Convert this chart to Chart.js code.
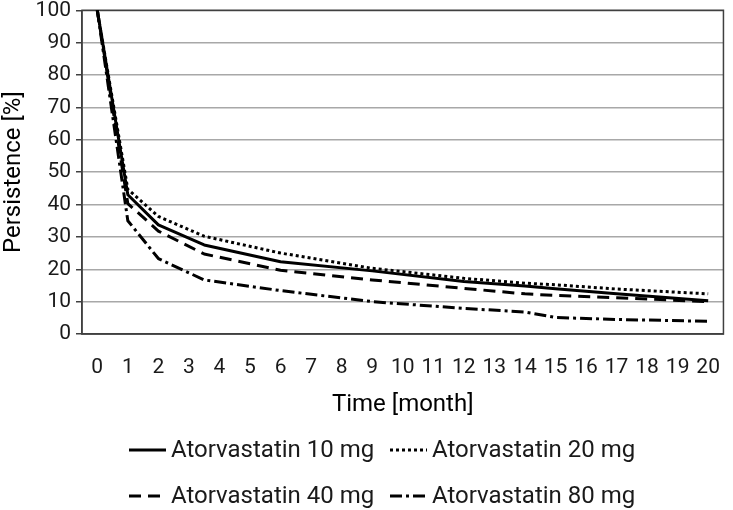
<!DOCTYPE html>
<html><head><meta charset="utf-8">
<script src="https://cdn.jsdelivr.net/npm/chart.js@4/dist/chart.umd.min.js"></script>
<style>html,body{margin:0;padding:0;background:#fff;}#wrap{width:733px;height:510px;}</style>
</head><body><div id="wrap"><canvas id="c" width="733" height="510"></canvas></div>
<script>
// ---- data ----
const months = [0, 1, 2, 3.5, 6, 9, 12, 14, 15, 17, 20];
const xTickValues = [0,1,2,3,4,5,6,7,8,9,10,11,12,13,14,15,16,17,18,19,20];
const seriesNames = ['Atorvastatin 10 mg','Atorvastatin 20 mg','Atorvastatin 40 mg','Atorvastatin 80 mg'];
const atorva10 = [100, 43.0, 33.7, 27.5, 22.3, 19.5, 16.2, 14.8, 14.0, 12.4, 10.3];
const atorva20 = [100, 44.7, 36.3, 30.2, 25.0, 20.3, 17.2, 15.7, 15.2, 13.9, 12.4];
const atorva40 = [100, 40.3, 31.8, 24.7, 19.7, 16.7, 14.1, 12.4, 11.9, 11.2, 10.0];
const atorva80 = [100, 35.0, 23.3, 16.7, 13.4, 10.0, 7.9, 6.8, 5.1, 4.5, 3.9];
const yAxisTitle = 'Persistence [%]';
const xAxisTitle = 'Time [month]';

const FONT = "Roboto, 'Open Sans', sans-serif";
Chart.defaults.font.family = FONT;
Chart.defaults.color = '#1a1a1a';

const styles = [
  {borderDash: []},
  {borderDash: [3, 3]},
  {borderDash: [12, 7]},
  {borderDash: [12, 4, 3, 4]}
];
const allValues = [atorva10, atorva20, atorva40, atorva80];
const datasets = allValues.map((vals, i) => ({
  label: seriesNames[i],
  data: months.map((m, j) => ({x: m, y: vals[j]})),
  borderColor: '#000',
  backgroundColor: '#000',
  borderWidth: 3,
  borderDash: styles[i].borderDash,
  borderCapStyle: 'butt',
  borderJoinStyle: 'round',
  pointRadius: 0,
  tension: 0,
  fill: false
}));

const boxPlugin = {
  id: 'box',
  beforeDatasetsDraw(chart) {
    const {ctx, chartArea: a} = chart;
    ctx.save();
    ctx.strokeStyle = '#404040';
    ctx.lineWidth = 1.5;
    ctx.strokeRect(a.left, a.top, a.right - a.left, a.bottom - a.top);
    ctx.restore();
  }
};

const legendPlugin = {
  id: 'twoRowLegend',
  afterDraw(chart) {
    const ctx = chart.ctx;
    const rows = [450, 496];
    const cols = [129, 390];
    const sampleW = 37, gap = 5;
    ctx.save();
    ctx.font = '24px ' + FONT;
    ctx.textBaseline = 'middle';
    ctx.fillStyle = '#1a1a1a';
    chart.data.datasets.forEach((ds, i) => {
      const y = rows[Math.floor(i / 2)];
      const x = cols[i % 2];
      ctx.strokeStyle = ds.borderColor;
      ctx.lineWidth = ds.borderWidth;
      ctx.lineCap = 'butt';
      ctx.setLineDash(ds.borderDash || []);
      ctx.beginPath();
      ctx.moveTo(x, y);
      ctx.lineTo(x + sampleW, y);
      ctx.stroke();
      ctx.setLineDash([]);
      ctx.fillText(ds.label, x + sampleW + gap, y + 1);
    });
    ctx.restore();
  }
};

new Chart(document.getElementById('c'), {
  type: 'line',
  data: {datasets},
  plugins: [boxPlugin, legendPlugin],
  options: {
    responsive: false,
    devicePixelRatio: 1,
    animation: false,
    layout: {padding: {top: 5, right: 1, bottom: 85, left: 0}},
    plugins: {legend: {display: false}, tooltip: {enabled: false}},
    scales: {
      x: {
        type: 'linear', min: -0.5, max: 20.5,
        afterBuildTicks(s) { s.ticks = xTickValues.map(v => ({value: v})); },
        ticks: {padding: 13, font: {size: 21}, color: '#1a1a1a', autoSkip: false, maxRotation: 0},
        grid: {display: false},
        border: {display: true, color: '#404040', width: 1.5},
        title: {display: true, text: xAxisTitle, font: {size: 24}, color: '#000', padding: {top: 10, bottom: 6}},
        afterFit(s) { s.height = 91; }
      },
      y: {
        min: 0, max: 100,
        ticks: {stepSize: 10, padding: 5, color: '#1a1a1a', font: {size: 21, lineHeight: 0.5}},
        grid: {color: '#a8a8a8', lineWidth: 1.5, tickLength: 6, tickColor: '#404040', drawTicks: true},
        border: {display: true, color: '#404040', width: 1.5},
        title: {display: true, text: yAxisTitle, font: {size: 24}, color: '#000', padding: {top: 0, bottom: 0}},
        afterFit(s) { s.width = 82; }
      }
    }
  }
});
</script></body></html>
